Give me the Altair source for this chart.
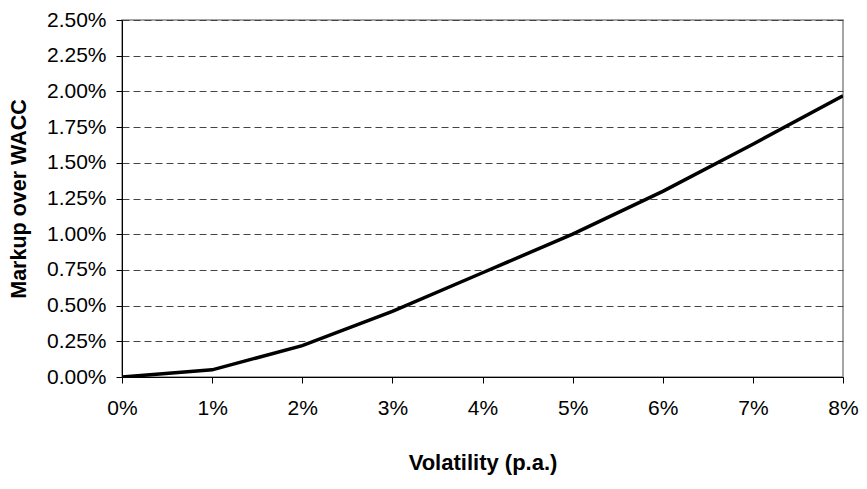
import altair as alt
import pandas as pd

volatility = [0.00, 0.01, 0.02, 0.03, 0.04, 0.05, 0.06, 0.07, 0.08]
markup = [0.0000, 0.0005, 0.0022, 0.0046, 0.0073, 0.0100, 0.0130, 0.0163, 0.0197]
y_ticks = [0.0, 0.0025, 0.005, 0.0075, 0.01, 0.0125, 0.015, 0.0175, 0.02, 0.0225, 0.025]
x_ticks = volatility

df = pd.DataFrame({"vol": volatility, "markup": markup})

FONT = "Liberation Sans"

line = alt.Chart(df).mark_line(color="black", strokeWidth=3.5, clip=True).encode(
    x=alt.X("vol:Q",
            scale=alt.Scale(domain=[0, 0.08], nice=False, zero=False),
            axis=alt.Axis(values=x_ticks, format=".0%", title="Volatility (p.a.)",
                          grid=False, domainColor="black", tickColor="black",
                          tickSize=6, labelPadding=14, titlePadding=34,
                          labelFlush=False, labelOverlap=False,
                          labelFont=FONT, labelFontSize=21, labelColor="black",
                          titleFont=FONT, titleFontSize=22, titleFontWeight="bold",
                          titleColor="black")),
    y=alt.Y("markup:Q",
            scale=alt.Scale(domain=[0, 0.025], nice=False),
            axis=alt.Axis(values=y_ticks, format=".2%", title="Markup over WACC",
                          grid=True, gridDash=[7, 4], gridColor="#444444", gridWidth=1,
                          domainColor="black", tickColor="black", tickSize=6,
                          labelPadding=10, titlePadding=16,
                          labelFlush=False, labelOverlap=False,
                          labelFont=FONT, labelFontSize=21, labelColor="black",
                          titleFont=FONT, titleFontSize=21.5, titleFontWeight="bold",
                          titleColor="black")),
)

chart = line.properties(
    width=721, height=357,
    autosize=alt.AutoSizeParams(type="none"),
    padding={"left": 114, "top": 12, "right": 16, "bottom": 104},
).configure_view(stroke="#888888", strokeWidth=1.5).configure_axis(domainWidth=1)

chart.save("out.html", embed_options={"renderer": "svg", "actions": False})
